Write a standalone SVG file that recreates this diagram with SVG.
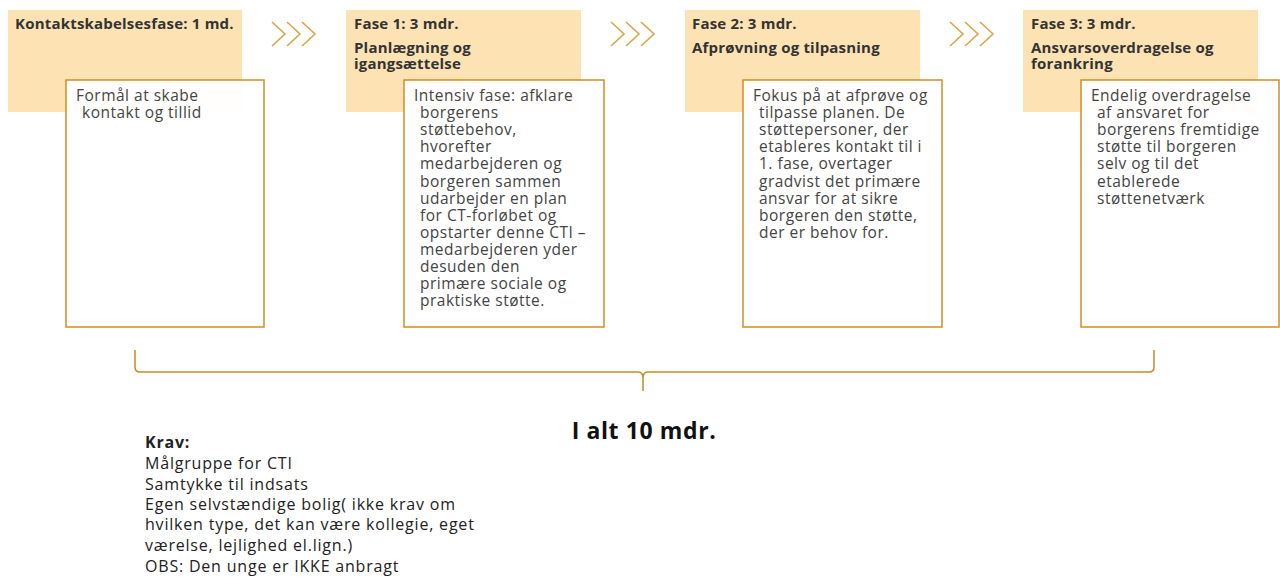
<svg xmlns="http://www.w3.org/2000/svg" width="1280" height="577" viewBox="0 0 1280 577">
<style>
.hdr{fill:#FDE3B4}
.box{fill:#FFFFFF;fill-opacity:0.96;stroke:#D08E22;stroke-width:1.5}
.ttl{font-family:"Open Sans",sans-serif;font-weight:700;font-size:15px;letter-spacing:0.2px;fill:#333333}
.body{font-family:"Open Sans",sans-serif;font-size:15.5px;letter-spacing:0.5px;fill:#444444}
.chev{fill:none;stroke:#D9A548;stroke-width:1.6}
.brace{fill:none;stroke:#C98A22;stroke-width:1.5}
.krav{font-family:"Open Sans",sans-serif;font-size:16px;letter-spacing:0.8px;fill:#222222}
.total{font-family:"Open Sans",sans-serif;font-weight:700;font-size:23px;letter-spacing:0.6px;fill:#111111}
</style>
<defs>
<g id="chevs">
<path class="chev" d="M0,0 L13,12 L0,24 M15,0 L28,12 L15,24 M30,0 L43,12 L30,24"/>
</g>
</defs>
<g id="phase0">
<rect class="hdr" x="8" y="10" width="234" height="102"/>
<text class="ttl" x="15" y="29">Kontaktskabelsesfase: 1 md.</text>
<rect class="box" x="66" y="80" width="198" height="247"/>
<text class="body" x="76" y="101">Formål at skabe</text>
<text class="body" x="82" y="118">kontakt og tillid</text>
</g>
<g id="phase1">
<rect class="hdr" x="346" y="10" width="235" height="102"/>
<text class="ttl" x="354" y="29">Fase 1: 3 mdr.</text>
<text class="ttl"><tspan x="354" y="53">Planlægning og</tspan><tspan x="354" y="69">igangsættelse</tspan></text>
<rect class="box" x="404" y="80" width="200" height="247"/>
<text class="body" x="414" y="101">Intensiv fase: afklare</text>
<text class="body" x="420"><tspan x="420" y="118">borgerens</tspan><tspan x="420" y="135">støttebehov,</tspan><tspan x="420" y="152">hvorefter</tspan><tspan x="420" y="169">medarbejderen og</tspan><tspan x="420" y="187">borgeren sammen</tspan><tspan x="420" y="204">udarbejder en plan</tspan><tspan x="420" y="221">for CT-forløbet og</tspan><tspan x="420" y="238">opstarter denne CTI –</tspan><tspan x="420" y="255">medarbejderen yder</tspan><tspan x="420" y="272">desuden den</tspan><tspan x="420" y="289">primære sociale og</tspan><tspan x="420" y="306">praktiske støtte.</tspan></text>
</g>
<g id="phase2">
<rect class="hdr" x="685" y="10" width="235" height="102"/>
<text class="ttl" x="692" y="29">Fase 2: 3 mdr.</text>
<text class="ttl" x="692" y="53">Afprøvning og tilpasning</text>
<rect class="box" x="743" y="80" width="199" height="247"/>
<text class="body" x="753" y="101">Fokus på at afprøve og</text>
<text class="body" x="759"><tspan x="759" y="118">tilpasse planen. De</tspan><tspan x="759" y="135">støttepersoner, der</tspan><tspan x="759" y="152">etableres kontakt til i</tspan><tspan x="759" y="169">1. fase, overtager</tspan><tspan x="759" y="187">gradvist det primære</tspan><tspan x="759" y="204">ansvar for at sikre</tspan><tspan x="759" y="221">borgeren den støtte,</tspan><tspan x="759" y="238">der er behov for.</tspan></text>
</g>
<g id="phase3">
<rect class="hdr" x="1023" y="10" width="235" height="102"/>
<text class="ttl" x="1031" y="29">Fase 3: 3 mdr.</text>
<text class="ttl"><tspan x="1031" y="53">Ansvarsoverdragelse og</tspan><tspan x="1031" y="69">forankring</tspan></text>
<rect class="box" x="1081" y="80" width="198" height="247"/>
<text class="body" x="1091" y="101">Endelig overdragelse</text>
<text class="body" x="1097"><tspan x="1097" y="118">af ansvaret for</tspan><tspan x="1097" y="135">borgerens fremtidige</tspan><tspan x="1097" y="152">støtte til borgeren</tspan><tspan x="1097" y="169">selv og til det</tspan><tspan x="1097" y="187">etablerede</tspan><tspan x="1097" y="204">støttenetværk</tspan></text>
</g>
<g id="connectors">
<use href="#chevs" x="272" y="22"/>
<use href="#chevs" x="611" y="22"/>
<use href="#chevs" x="950" y="22"/>
<path class="brace" d="M135,350 L135,367 Q135,372 140,372 L638,372 Q643,372 643,378 L643,391 M643,378 Q643,372 648,372 L1149,372 Q1154,372 1154,367 L1154,350"/>
</g>
<g id="total">
<text class="total" x="644" y="439" text-anchor="middle">I alt 10 mdr.</text>
</g>
<g id="krav">
<text class="krav" x="145" y="448" font-weight="700">Krav:</text>
<text class="krav"><tspan x="145" y="469">Målgruppe for CTI</tspan><tspan x="145" y="490">Samtykke til indsats</tspan><tspan x="145" y="510">Egen selvstændige bolig( ikke krav om</tspan><tspan x="145" y="530">hvilken type, det kan være kollegie, eget</tspan><tspan x="145" y="551">værelse, lejlighed el.lign.)</tspan><tspan x="145" y="572">OBS: Den unge er IKKE anbragt</tspan></text>
</g>
</svg>
